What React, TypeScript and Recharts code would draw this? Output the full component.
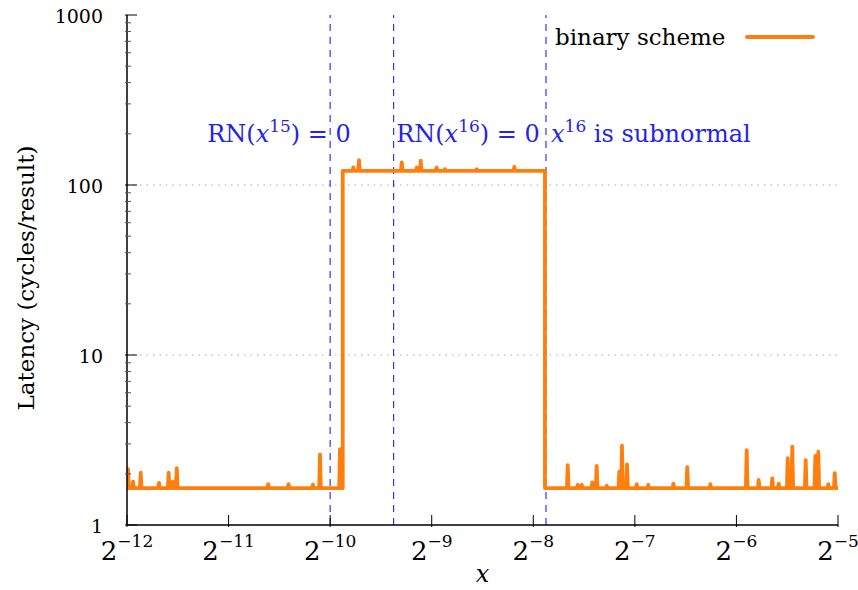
import { Legend, Line, LineChart, ReferenceDot, ReferenceLine, XAxis, YAxis } from 'recharts';

const SERIF = '"DejaVu Serif", serif';
const ORANGE = '#ff7f0e';
const BLUE = '#2424e8';

// x is kept as its base-2 exponent, so -10 means 2^-10
const X_TICKS = [-12, -11, -10, -9, -8, -7, -6, -5];
const Y_TICKS = [
  1, 2, 3, 4, 5, 6, 7, 8, 9,
  10, 20, 30, 40, 50, 60, 70, 80, 90,
  100, 200, 300, 400, 500, 600, 700, 800, 900,
  1000,
];
const Y_GRID = [10, 100];

// where the special cases start
const RN_X15_ZERO = -10;
const RN_X16_ZERO = -9.375;
const X16_SUBNORMAL = -7.875;

// latency levels (cycles/result) and where the slow path starts/ends
const LOW = 1.65;
const HIGH = 121;
const STEP_UP = -9.876;
const STEP_DOWN = -7.885;

const leftSpikeX = [-11.99, -11.94, -11.865, -11.685, -11.59, -11.55, -11.51, -10.61, -10.41, -10.17, -10.1, -9.903];
const leftSpikeY = [2.13, 1.8, 2.03, 1.77, 2.03, 1.8, 2.16, 1.74, 1.74, 1.73, 2.6, 2.79];

const midSpikeX = [-9.772, -9.716, -9.295, -9.148, -9.108, -8.951, -8.869, -8.557, -8.187];
const midSpikeY = [127, 140, 136, 127, 139, 127, 124, 124, 128];

const rightSpikeX = [
  -7.661, -7.563, -7.523, -7.419, -7.376, -7.277, -7.153, -7.127, -7.077, -6.982, -6.868, -6.621, -6.484,
  -6.257, -5.899, -5.781, -5.647, -5.584, -5.495, -5.45, -5.318, -5.223, -5.194, -5.095, -5.032,
];
const rightSpikeY = [
  2.25, 1.72, 1.72, 1.78, 2.23, 1.7, 2.06, 2.93, 2.27, 1.74, 1.72, 1.75, 2.19,
  1.74, 2.76, 1.84, 1.88, 1.75, 2.47, 2.89, 2.41, 2.55, 2.7, 1.74, 2.02,
];

const notes = [
  { x: -11.21, pre: 'RN(', exp: '15', post: ') = 0' },
  { x: -9.35, pre: 'RN(', exp: '16', post: ') = 0' },
  { x: -7.825, pre: '', exp: '16', post: ' is subnormal' },
];
const NOTE_Y = 180;

const HALF = 0.008;

function segment(from: number, to: number, base: number, xs: number[], ys: number[]) {
  const rows = [{ e: from, latency: base }];
  xs.forEach((x, i) => {
    rows.push({ e: x - HALF, latency: base }, { e: x, latency: ys[i] }, { e: x + HALF, latency: base });
  });
  rows.push({ e: to, latency: base });
  return rows;
}

const data = [
  ...segment(-12, STEP_UP, LOW, leftSpikeX, leftSpikeY),
  ...segment(STEP_UP, STEP_DOWN, HIGH, midSpikeX, midSpikeY),
  ...segment(STEP_DOWN, -5, LOW, rightSpikeX, rightSpikeY),
];

const isMajor = (v: number) => Math.abs(Math.log10(v) - Math.round(Math.log10(v))) < 1e-9;

function BottomTick(props: any) {
  const { x, y, payload } = props;
  return (
    <g>
      <line x1={x} x2={x} y1={y} y2={y - 12} stroke="#000" strokeWidth={1} />
      <text x={x} y={y + 33} textAnchor="middle" fontFamily={SERIF} fontSize={26} fill="#000">
        2
        <tspan dy={-13} fontSize={17}>
          {'\u2212' + Math.abs(payload.value)}
        </tspan>
      </text>
    </g>
  );
}

function TopTick(props: any) {
  const { x, y } = props;
  return <line x1={x} x2={x} y1={y} y2={y + 12} stroke="#000" strokeWidth={1} />;
}

function LeftTick(props: any) {
  const { x, y, payload } = props;
  const major = isMajor(payload.value);
  return (
    <g>
      <line x1={x} x2={x + (major ? 12 : 6)} y1={y} y2={y} stroke={major ? '#000' : '#555'} strokeWidth={1} />
      {major && (
        <text x={x - 22} y={y + 8} textAnchor="end" fontFamily={SERIF} fontSize={19} fill="#000">
          {payload.value}
        </text>
      )}
    </g>
  );
}

function RightTick(props: any) {
  const { x, y, payload } = props;
  const major = isMajor(payload.value);
  return <line x1={x} x2={x - (major ? 12 : 6)} y1={y} y2={y} stroke={major ? '#000' : '#555'} strokeWidth={1} />;
}

function XLabel(props: any) {
  const { viewBox } = props;
  return (
    <text x={viewBox.x + viewBox.width / 2} y={viewBox.y + 57} textAnchor="middle" fontFamily={SERIF} fontStyle="italic" fontSize={24} fill="#000">
      x
    </text>
  );
}

function YLabel(props: any) {
  const { viewBox } = props;
  const cx = viewBox.x + 34;
  const cy = viewBox.y + viewBox.height / 2 + 8;
  return (
    <text x={cx} y={cy} transform={`rotate(-90, ${cx}, ${cy})`} textAnchor="middle" fontFamily={SERIF} fontSize={23} fill="#000">
      Latency (cycles/result)
    </text>
  );
}

function Note(props: any) {
  const { viewBox, note } = props;
  return (
    <text x={viewBox.x} y={viewBox.y} fontFamily={SERIF} fontSize={24} fill={BLUE} style={{ whiteSpace: 'pre' }}>
      {note.pre}
      <tspan fontStyle="italic">x</tspan>
      <tspan dy={-10} fontSize={17}>
        {note.exp}
      </tspan>
      <tspan dy={10}>{note.post}</tspan>
    </text>
  );
}

function LegendBox() {
  return (
    <div style={{ display: 'flex', alignItems: 'center', fontFamily: SERIF, fontSize: 23, lineHeight: '30px', color: '#000' }}>
      <span>binary scheme</span>
      <svg width={70} height={10} style={{ marginLeft: 20 }}>
        <line x1={2} x2={68} y1={5} y2={5} stroke={ORANGE} strokeWidth={4} strokeLinecap="round" />
      </svg>
    </div>
  );
}

export default function App() {
  return (
    <div style={{ position: 'absolute', left: 0, top: 0, width: 858, height: 590, background: '#fff' }}>
      <LineChart width={858} height={590} data={data} margin={{ top: 15, right: 20, bottom: 0, left: 0 }}>
        <XAxis
          xAxisId="b"
          dataKey="e"
          type="number"
          domain={[-12, -5]}
          ticks={X_TICKS}
          interval={0}
          allowDataOverflow
          height={65}
          tickSize={0}
          tickLine={false}
          axisLine={{ stroke: '#000', strokeWidth: 1.5 }}
          tick={(p: any) => <BottomTick {...p} />}
          label={(p: any) => <XLabel {...p} />}
        />
        <XAxis
          xAxisId="t"
          orientation="top"
          type="number"
          domain={[-12, -5]}
          ticks={X_TICKS}
          interval={0}
          allowDataOverflow
          height={0}
          tickSize={0}
          tickLine={false}
          axisLine={{ stroke: '#000', strokeWidth: 1.5 }}
          tick={(p: any) => <TopTick {...p} />}
        />
        <YAxis
          yAxisId="l"
          type="number"
          scale="log"
          domain={[1, 1000]}
          ticks={Y_TICKS}
          interval={0}
          allowDataOverflow
          width={127}
          tickSize={0}
          tickLine={false}
          axisLine={{ stroke: '#000', strokeWidth: 1.5 }}
          tick={(p: any) => <LeftTick {...p} />}
          label={(p: any) => <YLabel {...p} />}
        />
        <YAxis
          yAxisId="r"
          orientation="right"
          type="number"
          scale="log"
          domain={[1, 1000]}
          ticks={Y_TICKS}
          interval={0}
          allowDataOverflow
          width={0}
          tickSize={0}
          tickLine={false}
          axisLine={{ stroke: '#000', strokeWidth: 1.5 }}
          tick={(p: any) => <RightTick {...p} />}
        />
        {Y_GRID.map((v) => (
          <ReferenceLine key={v} xAxisId="b" yAxisId="l" y={v} stroke="#aaa" strokeDasharray="1.5 5" strokeWidth={1} />
        ))}
        {[RN_X15_ZERO, RN_X16_ZERO, X16_SUBNORMAL].map((v) => (
          <ReferenceLine key={v} xAxisId="b" yAxisId="l" x={v} stroke={BLUE} strokeDasharray="7 6" strokeWidth={1.1} />
        ))}
        {notes.map((n) => (
          <ReferenceDot
            key={n.x}
            xAxisId="b"
            yAxisId="l"
            x={n.x}
            y={NOTE_Y}
            r={0}
            fill="none"
            stroke="none"
            label={(p: any) => <Note {...p} note={n} />}
          />
        ))}
        <Line
          xAxisId="b"
          yAxisId="l"
          type="linear"
          dataKey="latency"
          name="binary scheme"
          stroke={ORANGE}
          strokeWidth={3.8}
          strokeLinejoin="round"
          dot={false}
          activeDot={false}
          isAnimationActive={false}
        />
        <Legend
          layout="vertical"
          align="center"
          verticalAlign="middle"
          wrapperStyle={{ left: 555, top: 22, width: 'auto' }}
          content={() => <LegendBox />}
        />
      </LineChart>
    </div>
  );
}
